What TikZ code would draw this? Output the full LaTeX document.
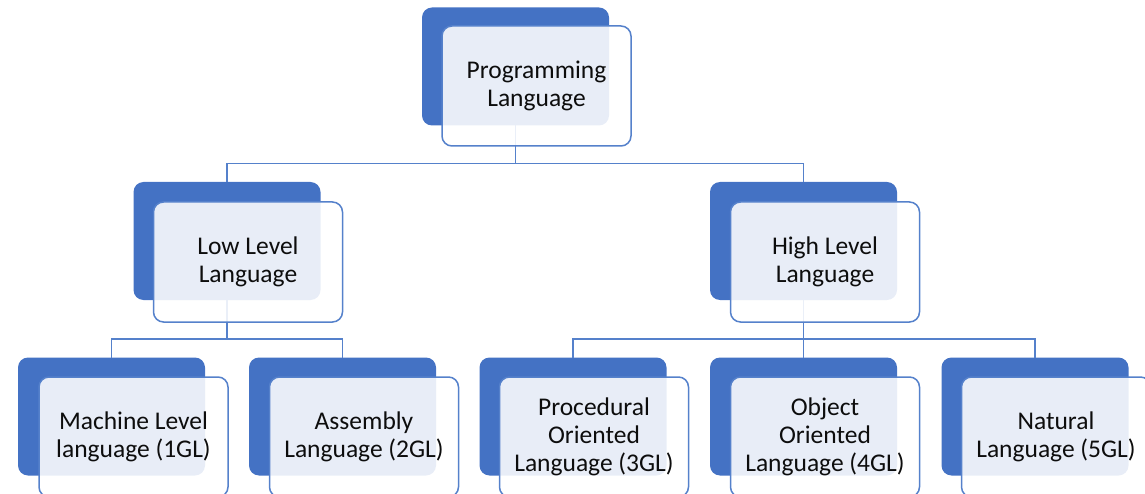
\documentclass[tikz,border=0pt]{standalone}
\usepackage{fontspec}
\setmainfont{Carlito}
\definecolor{accblue}{HTML}{4472C4}
\definecolor{lineblue}{HTML}{5581CB}
\tikzset{
  backbox/.style={rectangle, rounded corners=10pt, fill=accblue, minimum width=187pt, minimum height=118pt, inner sep=0pt, outer sep=0pt},
  frontbox/.style={rectangle, rounded corners=10pt, draw=lineblue, line width=1.5pt, fill=white, fill opacity=0.88, text opacity=1, minimum width=189pt, minimum height=120pt, inner sep=0pt, align=center, font=\fontsize{25.5}{28}\selectfont, text=black!95},
  conn/.style={draw=lineblue, line width=1.6pt}
}
\begin{document}
\begin{tikzpicture}[x=1pt,y=-1pt]
\clip (0,0) rectangle (1145,494);
% back boxes
\node[backbox] (plb) at (515.5,66.5) {};
\node[backbox] (llb) at (227,241) {};
\node[backbox] (hlb) at (803.5,241) {};
\node[backbox] (m1b) at (111.5,416.5) {};
\node[backbox] (a2b) at (342.5,416.5) {};
\node[backbox] (p3b) at (573,416.5) {};
\node[backbox] (o4b) at (803.5,416.5) {};
\node[backbox] (n5b) at (1035,416.5) {};
% connectors
\draw[conn] (plb.south) -- ++(0,38) -| (llb.north);
\draw[conn] (plb.south) -- ++(0,38) -| (hlb.north);
\draw[conn] (llb.south) -- ++(0,39) -| (m1b.north);
\draw[conn] (llb.south) -- ++(0,39) -| (a2b.north);
\draw[conn] (hlb.south) -- ++(0,39) -| (p3b.north);
\draw[conn] (hlb.south) -- ++(0,39) -| (o4b.north);
\draw[conn] (hlb.south) -- ++(0,39) -| (n5b.north);
% front boxes
\node[frontbox] (pl) at (536.5,86) {Programming\\Language};
\node[frontbox] (ll) at (248,262) {Low Level\\Language};
\node[frontbox] (hl) at (825,262) {High Level\\Language};
\node[frontbox] (m1) at (133.5,437) {Machine Level\\language (1GL)};
\node[frontbox] (a2) at (364,437) {Assembly\\Language (2GL)};
\node[frontbox] (p3) at (594,437) {Procedural\\Oriented\\Language (3GL)};
\node[frontbox] (o4) at (825,437) {Object\\Oriented\\Language (4GL)};
\node[frontbox] (n5) at (1056,437) {Natural\\Language (5GL)};
\end{tikzpicture}
\end{document}
